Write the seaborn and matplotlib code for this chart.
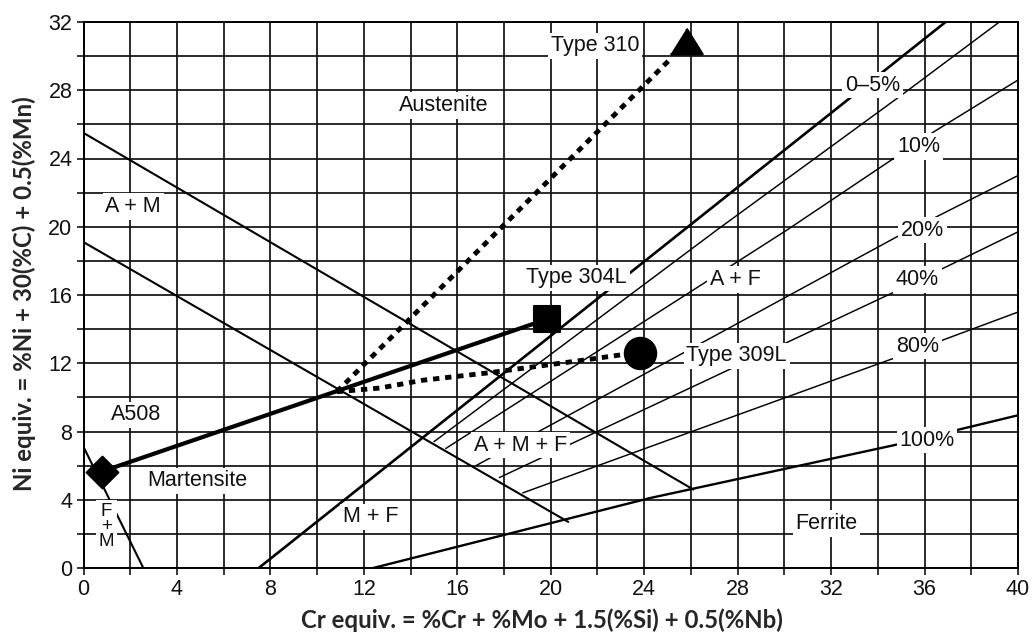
import matplotlib
matplotlib.use("Agg")
import matplotlib.pyplot as plt
import seaborn as sns
import numpy as np

# ---------------- data (Schaeffler diagram) ----------------
# phase boundaries
am_upper_x = [0.0, 26.1]
am_upper_y = [25.5, 4.6]
am_lower_x = [0.0, 20.75]
am_lower_y = [19.1, 2.7]
fm_x = [0.0, 2.56]
fm_y = [7.1, 0.0]
fer0_x = [7.5, 36.9]
fer0_y = [0.0, 32.0]
fer5_x = [15.0, 27.1, 35.0, 39.2]
fer5_y = [7.4, 19.8, 27.7, 32.0]
fer10_x = [15.5, 30.1, 36.2, 40.0]
fer10_y = [7.0, 19.8, 25.4, 28.6]
fer20_x = [16.8, 34.8, 40.0]
fer20_y = [6.0, 19.4, 23.0]
fer40_x = [17.8, 34.9, 40.0]
fer40_y = [5.3, 16.3, 19.7]
fer80_x = [18.8, 34.9, 40.0]
fer80_y = [4.4, 12.4, 15.0]
fer100_x = [12.4, 24.25, 34.7, 40.0]
fer100_y = [0.0, 4.1, 7.2, 8.95]

# materials
a508 = (0.78, 5.65)
t304 = (19.83, 14.58)
t309 = (23.83, 12.6)
t310 = (25.77, 30.87)
weld_x = [a508[0], t304[0]]
weld_y = [a508[1], t304[1]]
dil309_x = [10.84, 12.7, 14.5, 17.4, 21.5, 23.3]
dil309_y = [10.33, 10.55, 11.0, 11.45, 12.2, 12.55]
dil310_x = [10.84, 25.17]
dil310_y = [10.33, 29.9]

# labels
label_text = ["Austenite", "Type 310", "0\u20135%", "10%", "20%", "40%", "80%",
              "100%", "A + M", "Type 304L", "A + F", "Type 309L", "A508",
              "A + M + F", "Martensite", "F\n+\nM", "M + F", "Ferrite"]
label_x = [15.4, 21.9, 33.77, 35.74, 35.9, 35.7, 35.7, 36.1, 2.13, 21.1, 27.9,
           27.96, 2.25, 18.7, 4.87, 0.99, 12.3, 31.8]
label_y = [27.1, 30.6, 28.3, 24.7, 19.8, 16.9, 13.0, 7.5, 21.2, 17.0, 16.9,
           12.43, 8.97, 7.2, 5.1, 2.42, 3.0, 2.6]

x_ticks = list(range(0, 41, 4))
y_ticks = list(range(0, 33, 4))

# ---------------- figure ----------------
sns.set_theme(style="white")
plt.rcParams["font.family"] = ["Liberation Sans", "DejaVu Sans"]

fig = plt.figure(figsize=(10.35, 6.32), dpi=100)
ax = fig.add_axes([83.5 / 1035, 64 / 632, (1018 - 83.5) / 1035, (568 - 22) / 632])
ax.set_xlim(0, 40)
ax.set_ylim(0, 32)
ax.set_xticks(x_ticks)
ax.set_yticks(y_ticks)
ax.set_xticks(np.arange(0, 41, 2), minor=True)
ax.set_yticks(np.arange(0, 33, 2), minor=True)
ax.grid(True, which="both", color="#111111", lw=1.25, zorder=0)
ax.set_axisbelow(True)
ax.tick_params(which="both", direction="out", length=5, width=1.1,
               color="black", labelsize=15.5, pad=3, labelcolor="#111111",
               bottom=True, left=True)
for s in ax.spines.values():
    s.set_color("black")
    s.set_linewidth(1.4)

def line(x, y, lw, **kw):
    sns.lineplot(x=x, y=y, ax=ax, color="black", lw=lw, sort=False,
                 estimator=None, zorder=2, **kw)

line(am_upper_x, am_upper_y, 1.5)
line(am_lower_x, am_lower_y, 1.5)
line(fm_x, fm_y, 1.5)
line(fer0_x, fer0_y, 1.9)
for fx, fy in [(fer5_x, fer5_y), (fer10_x, fer10_y), (fer20_x, fer20_y),
               (fer40_x, fer40_y), (fer80_x, fer80_y)]:
    line(fx, fy, 1.05)
line(fer100_x, fer100_y, 1.7)
line(weld_x, weld_y, 3.0, solid_capstyle="butt")
line(dil309_x, dil309_y, 3.5, linestyle=(0, (1.3, 1.2)), dash_capstyle="butt")
line(dil310_x, dil310_y, 3.5, linestyle=(0, (1.3, 1.2)), dash_capstyle="butt")

for t, x, y in zip(label_text, label_x, label_y):
    ls = 0.85 if "\n" in t else 1.2
    fs = 13.5 if "\n" in t else 15.5
    ax.text(x, y, t, fontsize=fs, ha="center", va="center", zorder=3,
            linespacing=ls, color="#111111",
            bbox=dict(facecolor="white", edgecolor="none", pad=2.0))

sns.scatterplot(x=[a508[0]], y=[a508[1]], ax=ax, marker="D", s=266,
                color="black", edgecolor="black", zorder=5)
sns.scatterplot(x=[t304[0]], y=[t304[1]], ax=ax, marker="s", s=350,
                color="black", edgecolor="black", zorder=5)
sns.scatterplot(x=[t309[0]], y=[t309[1]], ax=ax, marker="o", s=497,
                color="black", edgecolor="black", zorder=5)
sns.scatterplot(x=[t310[0]], y=[t310[1]], ax=ax,
                marker=[(-1, -0.8), (1, -0.8), (0, 0.8)], s=530,
                color="black", edgecolor="black", zorder=5)

ax.set_xlabel("")
ax.set_ylabel("")
lab_font = dict(family=["Lato", "DejaVu Sans"], weight="bold", size=17.3)
fig.text(542 / 1035, 1 - 620 / 632, "Cr equiv. = %Cr + %Mo + 1.5(%Si) + 0.5(%Nb)",
         ha="center", va="center", **lab_font)
fig.text(24 / 1035, 1 - 294 / 632, "Ni equiv. = %Ni + 30(%C) + 0.5(%Mn)",
         ha="center", va="center", rotation=90, **lab_font)

fig.savefig("out.png", dpi=100)
